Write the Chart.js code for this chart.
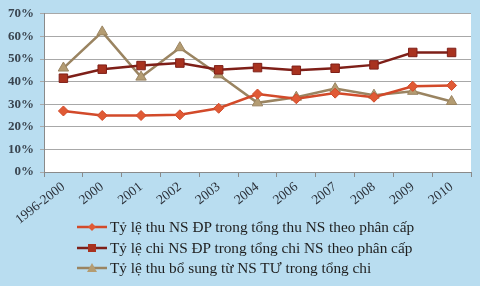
<!DOCTYPE html>
<html>
<head>
<meta charset="utf-8">
<script src="https://cdn.jsdelivr.net/npm/chart.js@4/dist/chart.umd.min.js"></script>
<style>
  html, body { margin: 0; padding: 0; background: #b9ddf0; }
  #wrap { position: relative; width: 480px; height: 286px; }
  #legend { position: absolute; left: 76px; top: 217px; font-family: "Liberation Serif", serif; font-size: 15.3px; color: #1e1e1e; }
  .row { display: flex; align-items: center; height: 20.5px; white-space: nowrap; }
  .row canvas { margin-right: 2px; }
</style>
</head>
<body>
<div id="wrap">
  <canvas id="c" width="480" height="286"></canvas>
  <div id="legend"></div>
</div>
<script>
const nam = ['1996-2000', '2000', '2001', '2002', '2003', '2004', '2006', '2007', '2008', '2009', '2010'];
const thuDP = [27, 25, 25, 25.3, 28.2, 34.5, 32.4, 34.9, 33.1, 37.9, 38.3];
const chiDP = [41.5, 45.5, 47.1, 48.2, 45.2, 46.2, 45, 45.9, 47.4, 52.9, 52.9];
const boSung = [46, 62, 42, 55, 43, 30.6, 33.1, 36.9, 34, 35.7, 31.2];
const tenSeries = [
    'Tỷ lệ thu NS ĐP trong tổng thu NS theo phân cấp',
    'Tỷ lệ chi NS ĐP trong tổng chi NS theo phân cấp',
    'Tỷ lệ thu bổ sung từ NS TƯ trong tổng chi'
];

const mau = [
    { line: '#d24a2a', fill: '#e05a35', style: 'rectRot', r: 5 },
    { line: '#7e1f18', fill: '#a8321f', style: 'rect', r: 6 },
    { line: '#9a8461', fill: '#b49c72', style: 'triangle', r: 6 }
];

// nen trang cho vung ve
const nenTrang = {
    id: 'nenTrang',
    beforeDraw(chart) {
        const a = chart.chartArea;
        chart.ctx.save();
        chart.ctx.fillStyle = '#ffffff';
        chart.ctx.fillRect(a.left, a.top, a.right - a.left, a.bottom - a.top);
        chart.ctx.restore();
    }
};

const duLieu = [thuDP, chiDP, boSung];

new Chart(document.getElementById('c'), {
    type: 'line',
    data: {
        labels: nam,
        datasets: duLieu.map((d, i) => ({
            label: tenSeries[i],
            data: d,
            borderColor: mau[i].line,
            backgroundColor: mau[i].fill,
            pointBackgroundColor: mau[i].fill,
            pointBorderColor: mau[i].line,
            pointBorderWidth: 1,
            pointStyle: mau[i].style,
            pointRadius: mau[i].r,
            borderWidth: 2.5,
            tension: 0
        }))
    },
    options: {
        responsive: false,
        animation: false,
        layout: { padding: { top: 10, right: 9, bottom: 59, left: 0 } },
        plugins: {
            legend: { display: false },
            tooltip: { enabled: false }
        },
        scales: {
            x: {
                offset: true,
                grid: { display: true, drawOnChartArea: false, tickLength: 5, color: '#8a8a8a', offset: true },
                border: { color: '#8a8a8a' },
                ticks: {
                    maxRotation: 38, minRotation: 38, autoSkip: false,
                    color: '#2a2f38',
                    padding: 2,
                    font: { family: 'Liberation Serif', size: 13.5 }
                },
                afterFit(s) { s.height = 55; }
            },
            y: {
                min: 0, max: 70,
                ticks: {
                    stepSize: 10,
                    color: '#3a4550',
                    padding: 6,
                    font: { family: 'Liberation Serif', size: 13, weight: 'bold' },
                    callback: v => v + '%'
                },
                grid: { color: '#a8a8a8', tickLength: 4 },
                border: { color: '#8a8a8a' },
                afterFit(s) { s.width = 44; }
            }
        }
    },
    plugins: [nenTrang]
});

// chu thich
const legend = document.getElementById('legend');
tenSeries.forEach((t, i) => {
    const row = document.createElement('div');
    row.className = 'row';
    const cv = document.createElement('canvas');
    cv.width = 32; cv.height = 14;
    const g = cv.getContext('2d');
    g.strokeStyle = mau[i].line; g.lineWidth = 2.5;
    g.beginPath(); g.moveTo(1, 7); g.lineTo(31, 7); g.stroke();
    g.fillStyle = mau[i].fill;
    g.beginPath();
    if (mau[i].style === 'rectRot') { g.moveTo(16, 3); g.lineTo(20, 7); g.lineTo(16, 11); g.lineTo(12, 7); }
    else if (mau[i].style === 'rect') { g.rect(12, 3, 8, 8); }
    else { g.moveTo(16, 2); g.lineTo(21, 11); g.lineTo(11, 11); }
    g.closePath(); g.fill();
    row.appendChild(cv);
    const sp = document.createElement('span');
    sp.textContent = t;
    row.appendChild(sp);
    legend.appendChild(row);
});
</script>
</body>
</html>
